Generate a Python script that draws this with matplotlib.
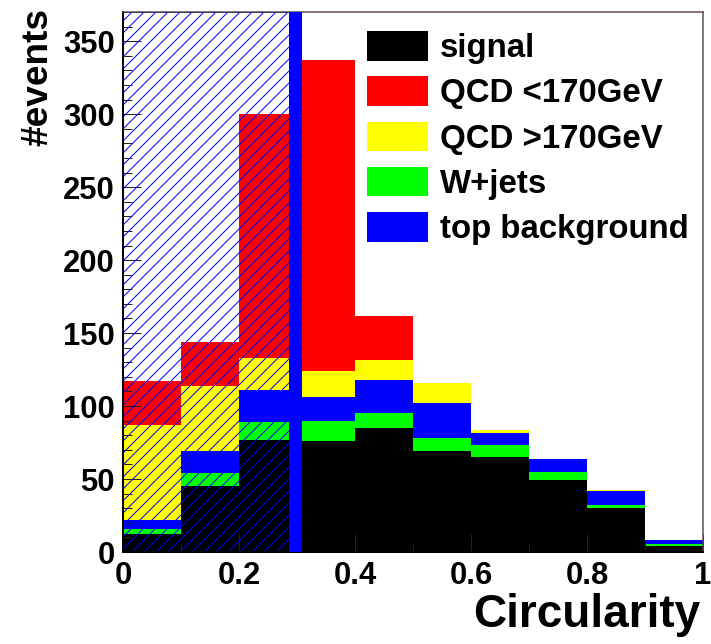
import matplotlib
matplotlib.use("Agg")
import matplotlib.pyplot as plt
import numpy as np

plt.rcParams["font.family"] = ["Liberation Sans", "DejaVu Sans"]
plt.rcParams["font.weight"] = "bold"
plt.rcParams["hatch.linewidth"] = 1.0

# circularity bins (width 0.1) and the stacked contributions per bin
bin_edges = [0.0, 0.1, 0.2, 0.3, 0.4, 0.5, 0.6, 0.7, 0.8, 0.9, 1.0]
signal = [12, 45, 77, 76, 85, 69, 65, 49, 30, 4]
wjets = [4, 9, 12, 14, 10, 9, 8.5, 6, 2.5, 1.5]
top_bkg = [6, 15, 22, 16, 23, 24, 8, 9, 9, 3]
qcd_high = [65, 45, 22, 18, 13.5, 13.5, 2, 0, 1, 0]
qcd_low = [30, 30, 167, 213, 30, 0, 0, 0, 0, 0]

cut_value = 0.297

xticks = [0, 0.2, 0.4, 0.6, 0.8, 1.0]
yticks = [0, 50, 100, 150, 200, 250, 300, 350]

dpi = 72
fig = plt.figure(figsize=(711 / dpi, 644 / dpi), dpi=dpi)
ax = fig.add_axes([123 / 711, 1 - 552 / 644, 580 / 711, 540 / 644])

edges = np.array(bin_edges)
left = edges[:-1]
width = np.diff(edges)

# stack order from the bottom up
stack = [
    (signal, "black", "signal"),
    (wjets, "#00ff00", "W+jets"),
    (top_bkg, "#0000ff", "top background"),
    (qcd_high, "#ffff00", "QCD >170GeV"),
    (qcd_low, "#ff0000", "QCD <170GeV"),
]
bottom = np.zeros(len(left))
handles = {}
for values, color, label in stack:
    vals = np.array(values, dtype=float)
    bars = ax.bar(left, vals, width=width, bottom=bottom, align="edge",
                  color=color, linewidth=0, label=label, zorder=1)
    handles[label] = bars
    bottom += vals

# region removed by the cut, hatched over everything
ax.axvspan(0, cut_value, facecolor="none", edgecolor="#0000ff",
           hatch="//", linewidth=1.0, zorder=2)
ax.axvline(cut_value, color="#0000ff", linewidth=13, zorder=3)

ax.set_xlim(0, 1)
ax.set_ylim(0, 370)

ax.set_xticks(xticks)
ax.set_xticklabels(["%g" % t for t in xticks])
ax.set_xticks(np.arange(0, 1.001, 0.1), minor=True)
ax.set_yticks(yticks)
ax.set_yticklabels(["%g" % t for t in yticks])
ax.set_yticks(np.arange(0, 371, 10), minor=True)

ax.tick_params(axis="both", which="both", direction="in", labelsize=31,
               colors="#222222", labelcolor="black", top=False, right=False)
ax.tick_params(axis="both", which="major", length=18, width=1)
ax.tick_params(axis="both", which="minor", length=9, width=1)
ax.tick_params(axis="y", pad=8)
ax.tick_params(axis="x", pad=9)
for lab in ax.get_xticklabels() + ax.get_yticklabels():
    lab.set_fontweight("bold")

for side in ["left", "bottom"]:
    ax.spines[side].set_linewidth(2)
    ax.spines[side].set_color("black")
for side in ["top", "right"]:
    ax.spines[side].set_linewidth(1.5)
    ax.spines[side].set_color("#5a4a4a")

fig.text(38 / 711, 1 - 8 / 644, "#events", rotation=90, ha="center",
         va="top", fontsize=37, fontweight="bold")
fig.text(700 / 711, 1 - 627 / 644, "Circularity", ha="right",
         va="baseline", fontsize=46, fontweight="bold")

order = ["signal", "QCD <170GeV", "QCD >170GeV", "W+jets", "top background"]
leg = ax.legend([handles[k] for k in order], order,
                loc="upper left", bbox_to_anchor=(367 / 711, 1 - 31 / 644),
                bbox_transform=fig.transFigure, frameon=False,
                prop={"size": 33, "weight": "bold"},
                handlelength=1.85, handleheight=1.0, handletextpad=0.36,
                labelspacing=0.37, borderpad=0, borderaxespad=0)

fig.savefig("out.png", dpi=dpi)
